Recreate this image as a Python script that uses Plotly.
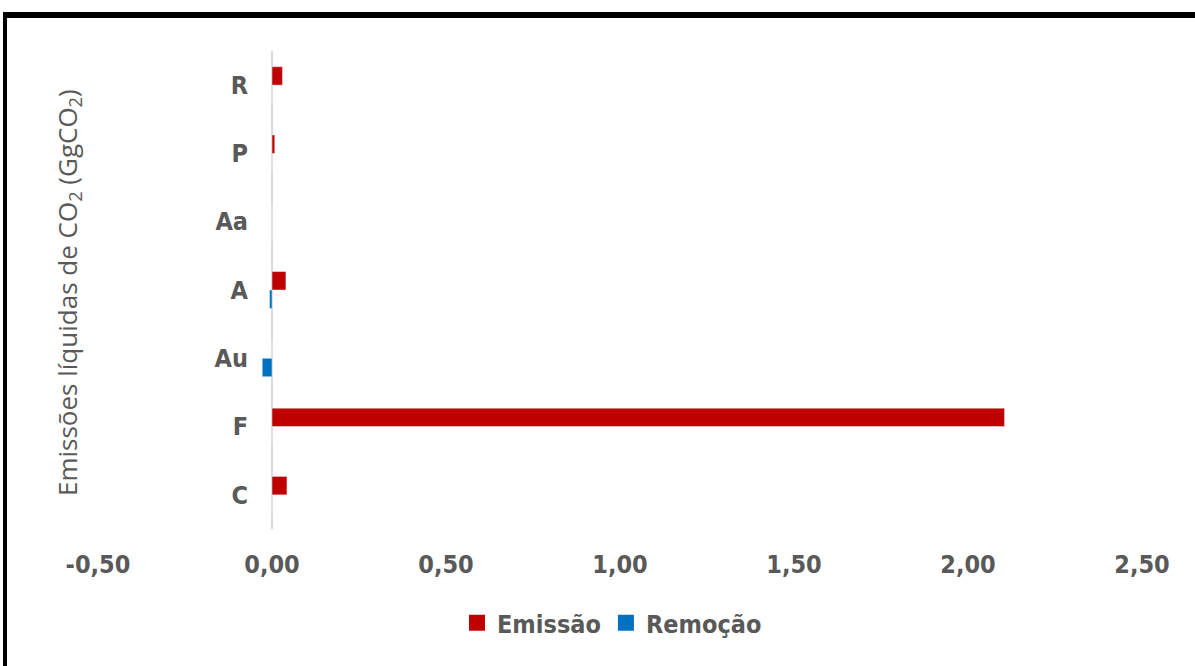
import plotly.graph_objects as go

categories = ["C", "F", "Au", "A", "Aa", "P", "R"]
emissao = [0.043, 2.105, 0.0, 0.040, 0.0, 0.008, 0.030]
remocao = [0.0, 0.0, -0.028, -0.007, 0.0, 0.0, 0.0]
x_tickvals = [-0.5, 0.0, 0.5, 1.0, 1.5, 2.0, 2.5]
x_ticktext = ["-0,50", "0,00", "0,50", "1,00", "1,50", "2,00", "2,50"]
series_names = ["Emissão", "Remoção"]
series_colors = ["#C00000", "#0070C0"]

W, H = 1195, 666
L, R, T, B = 98, 53, 51, 137
pw, ph = W - L - R, H - T - B

def px(x):
    return (x - L) / pw

def py(y):
    return (H - B - y) / ph

FAM = "Liberation Sans Narrow, Arial Narrow, DejaVu Sans Condensed, sans-serif"
tick_font = dict(family=FAM, size=25, color="#595959", weight="bold")

fig = go.Figure()
fig.add_trace(go.Bar(y=categories, x=remocao, orientation="h", name=series_names[1],
                     marker=dict(color=series_colors[1]), showlegend=False))
fig.add_trace(go.Bar(y=categories, x=emissao, orientation="h", name=series_names[0],
                     marker=dict(color=series_colors[0]), showlegend=False))
for nm, col in zip(series_names, series_colors):
    fig.add_trace(go.Scatter(x=[None], y=[None], mode="markers", name=nm,
                             marker=dict(symbol="square", size=17, color=col), showlegend=True))

fig.update_layout(
    width=W, height=H,
    margin=dict(l=L, r=R, t=T, b=B),
    paper_bgcolor="white", plot_bgcolor="white",
    barmode="group", bargap=0.46, bargroupgap=0,
    separators=",.",
    showlegend=True,
    legend=dict(orientation="h", x=px(612), y=py(623), xanchor="center", yanchor="middle",
                font=tick_font, traceorder="normal", itemwidth=30, itemsizing="trace"),
    xaxis=dict(range=[-0.5, 2.5], tickvals=x_tickvals, ticktext=x_ticktext,
               showgrid=False, zeroline=True, zerolinecolor="#d9d9d9", zerolinewidth=1.5,
               showline=False, tickfont=tick_font, ticks="", ticklabelstandoff=18),
    yaxis=dict(categoryorder="array", categoryarray=categories, anchor="free",
               position=px(272), showgrid=False, showline=False, ticks="",
               tickfont=tick_font, ticklabelstandoff=24),
    shapes=[
        dict(type="rect", xref="paper", yref="paper", x0=px(3), x1=px(1200),
             y0=py(18), y1=py(12), fillcolor="black", line=dict(width=0), layer="above"),
        dict(type="rect", xref="paper", yref="paper", x0=px(3), x1=px(7),
             y0=py(670), y1=py(12), fillcolor="black", line=dict(width=0), layer="above"),
    ],
    annotations=[
        dict(text="Emissões líquidas de CO<sub>2</sub> (GgCO<sub>2</sub>)", textangle=-90,
             xref="paper", yref="paper", x=px(68), y=py(293), xanchor="center", yanchor="middle",
             showarrow=False, font=dict(family="Open Sans, sans-serif", size=26, color="#595959")),
    ],
)

fig.write_html("out.html")
